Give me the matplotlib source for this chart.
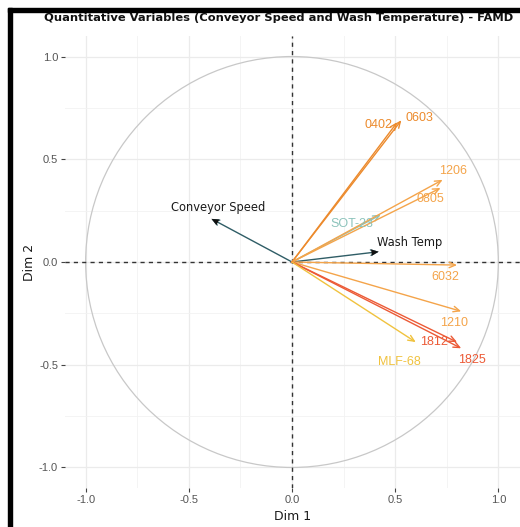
import matplotlib
matplotlib.use("Agg")
import matplotlib.pyplot as plt
from matplotlib.patches import Circle, Rectangle
import numpy as np

# variable coordinates on Dim 1 / Dim 2
variables = ["Conveyor Speed", "Wash Temp", "SOT-23", "0402", "0603", "1206",
             "0805", "6032", "1210", "1812", "1825", "MLF-68"]
dim1 = [-0.39, 0.42, 0.43, 0.51, 0.53, 0.73, 0.72, 0.80, 0.82, 0.80, 0.82, 0.60]
dim2 = [0.21, 0.05, 0.23, 0.68, 0.69, 0.40, 0.36, -0.015, -0.24, -0.39, -0.42, -0.39]

arrow_cols = ["#2f5d66", "#2f5d66", "#8cc3bb", "#ec8a2c", "#ec8a2c", "#f4a44a",
              "#f4a44a", "#f4a44a", "#f4a44a", "#ec5a36", "#ec5a36", "#f0c23e"]
label_cols = ["#1a1a1a", "#1a1a1a", "#8cc3bb", "#ec8a2c", "#ec8a2c", "#f4a44a",
              "#f4a44a", "#f4a44a", "#f4a44a", "#ec5a36", "#ec5a36", "#f0c23e"]

# label offsets from arrow tips (data units)
label_dx = [0.03, 0.15, -0.14, -0.09, 0.09, 0.05, -0.05, -0.055, -0.035, -0.11, 0.05, -0.08]
label_dy = [0.055, 0.045, -0.045, -0.015, 0.01, 0.045, -0.055, -0.06, -0.055, 0.0, -0.055, -0.095]

fig = plt.figure(figsize=(5.2, 5.27), dpi=100)
ax = fig.add_axes([65 / 520, 1 - 488 / 527, 455 / 520, 452 / 527])

ax.set_xlim(-1.1, 1.105)
ax.set_ylim(-1.1, 1.1)

ticks = [-1.0, -0.5, 0.0, 0.5, 1.0]
ax.set_xticks(ticks)
ax.set_yticks(ticks)
ax.set_xticklabels([f"{t:.1f}" for t in ticks], family="Liberation Sans")
ax.set_yticklabels([f"{t:.1f}" for t in ticks], family="Liberation Sans")
ax.set_xticks([-0.75, -0.25, 0.25, 0.75], minor=True)
ax.set_yticks([-0.75, -0.25, 0.25, 0.75], minor=True)
ax.grid(True, which="major", color="#ebebeb", lw=0.9)
ax.grid(True, which="minor", color="#f2f2f2", lw=0.6)
ax.set_axisbelow(True)
for s in ax.spines.values():
    s.set_visible(False)
ax.tick_params(which="major", length=3, color="#444444", labelsize=8, labelcolor="#555555", pad=2)
ax.tick_params(which="minor", length=0)

ax.add_patch(Circle((0, 0), 1.0, fill=False, ec="#c8c8c8", lw=0.9, zorder=1))
ax.axhline(0, color="#333333", ls=(0, (3, 3)), lw=1.0, zorder=2)
ax.axvline(0, color="#333333", ls=(0, (3, 3)), lw=1.0, zorder=2)

for i, name in enumerate(variables):
    ax.annotate("", xy=(dim1[i], dim2[i]), xytext=(0, 0),
                arrowprops=dict(arrowstyle="->,head_length=0.45,head_width=0.2",
                                color=arrow_cols[i], lw=1.0, shrinkA=0, shrinkB=0),
                zorder=3)
    if i < 2:
        ax.annotate("", xy=(dim1[i], dim2[i]), xytext=(dim1[i] * 0.93, dim2[i] * 0.93),
                    arrowprops=dict(arrowstyle="-|>,head_length=0.5,head_width=0.22",
                                    color="#111111", lw=0.1, shrinkA=0, shrinkB=0),
                    zorder=4)
        fam = "DejaVu Sans"
        fs = 8.3
    else:
        fam = "Liberation Sans"
        fs = 9
    ax.text(dim1[i] + label_dx[i], dim2[i] + label_dy[i], name, color=label_cols[i],
            fontsize=fs, family=fam, ha="center", va="center", zorder=5)

ax.set_xlabel("Dim 1", fontsize=9, color="#1a1a1a", labelpad=4)
ax.set_ylabel("Dim 2", fontsize=9, color="#1a1a1a", labelpad=2)
fig.text(0.535, 0.965, "Quantitative Variables (Conveyor Speed and Wash Temperature) - FAMD",
         ha="center", va="center", fontsize=8.25, fontweight="bold", color="#111111")

# black frame edges from the original screenshot
fig.patches.append(Rectangle((8 / 520, 0), 4 / 520, 1 - 8 / 527, transform=fig.transFigure,
                             color="black", zorder=10))
fig.patches.append(Rectangle((8 / 520, 1 - 12 / 527), 1, 4 / 527, transform=fig.transFigure,
                             color="black", zorder=10))

fig.savefig("out.png", dpi=100)
